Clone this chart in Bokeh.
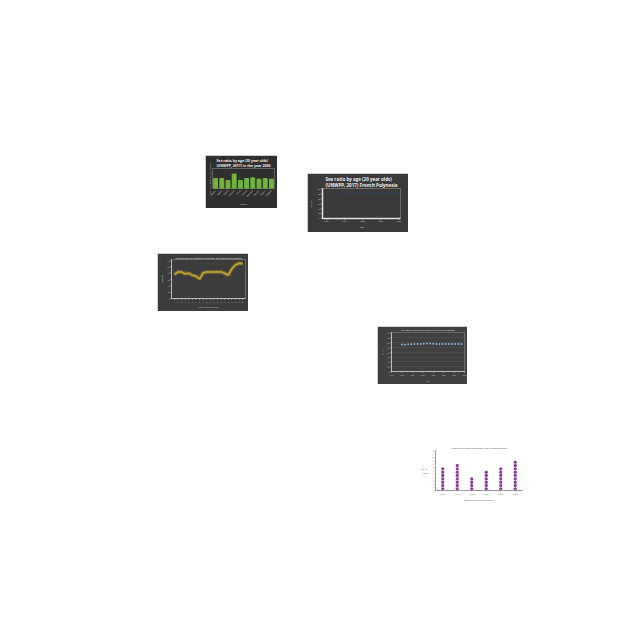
from bokeh.plotting import figure
from bokeh.layouts import row, column
from bokeh.models import Spacer, FixedTicker, ColumnDataSource
from bokeh.embed import file_html
from bokeh.resources import INLINE

# ---------------- data ----------------
# chart 1: bar chart (sex ratio by country)
bar_countries = ["Albania", "Algeria", "Angola", "Armenia", "Aruba", "Austria",
                 "Bahamas", "Bahrain", "Belarus", "Belgium"]
bar_values = [104.5, 104.5, 103.0, 108.0, 103.0, 104.5, 105.0, 104.0, 104.5, 104.0]

# chart 2: sex ratio French Polynesia (very faint line)
fp_years = [1970, 1980, 1990, 2000, 2010, 2020, 2030, 2040, 2050]
fp_values = [103, 104, 103, 104, 104, 103, 104, 104, 104]
fp_xticks = [1950, 1975, 2000, 2025, 2050]

# chart 3: yellow line chart
line_x = list(range(1, 21))
line_y = [75, 83, 83, 77, 79, 73, 70, 61, 80, 83, 83, 83, 83, 83, 79, 73, 93, 105, 110, 109]

# chart 4: scatter Palestine
pal_years = [1960, 1963, 1966, 1969, 1972, 1975, 1978, 1981, 1984, 1987,
             1990, 1993, 1996, 1999, 2002, 2005, 2008, 2011, 2014, 2017]
pal_values = [112, 111, 113, 113, 114, 114, 114, 115, 116, 116,
              115, 114, 114, 114, 114, 114, 114, 114, 114, 114]
pal_xticks = [1950, 1960, 1970, 1980, 1990, 2000, 2010, 2020]

# chart 5: dot plot
emp_ids = ["ID 5701", "ID 7770", "ID 4880", "ID 8098", "ID 5168", "ID 2091"]
emp_days = [7, 8, 4, 6, 7, 9]

FONT = "Open Sans"


def tight_axes(p, label_px, title_px):
    for ax in p.axis:
        ax.minor_tick_line_color = None
        ax.major_label_text_font = FONT
        ax.axis_label_text_font = FONT
        ax.axis_label_text_font_style = "normal"
        ax.major_label_text_font_size = label_px
        ax.axis_label_text_font_size = title_px
        ax.major_label_standoff = 1
        ax.axis_label_standoff = 1
        ax.major_tick_out = 1
        ax.major_tick_in = 0
    p.min_border_left = 1
    p.min_border_right = 3
    p.min_border_top = 1
    p.min_border_bottom = 1
    p.title.standoff = 1
    p.title.text_font = FONT
    p.title.align = "center"


def dark_style(p, bg, axis_col="#bbbbbb"):
    p.background_fill_color = bg
    p.border_fill_color = bg
    p.outline_line_color = None
    for ax in p.axis:
        ax.axis_line_color = axis_col
        ax.major_tick_line_color = axis_col
        ax.major_label_text_color = "#cccccc"
        ax.axis_label_text_color = "#cccccc"
    p.title.text_color = "#eeeeee"
    p.xgrid.grid_line_color = None
    p.ygrid.grid_line_color = None


# ---------------- chart 1 ----------------
p1 = figure(width=72, height=53, x_range=bar_countries, y_range=(96.6, 112.4),
            output_backend="svg", toolbar_location=None,
            title="Sex ratio by age (20 year olds)\n(UNWPP, 2017) in the year 2000")
p1.vbar(x=bar_countries, top=bar_values, width=0.62, color="#72b43a")
dark_style(p1, "#2f2f2f")
tight_axes(p1, "2px", "2px")
p1.title.text_font_size = "3.5px"
p1.title.text_font_style = "bold"
p1.min_border_top = 4
p1.xaxis.major_label_orientation = 0.8
p1.xaxis.axis_label = "Country"
p1.xaxis.axis_line_color = None
p1.xaxis.major_tick_line_color = None
p1.yaxis.axis_label = "Sex ratio (males per 100 females)"
p1.yaxis.ticker = FixedTicker(ticks=[])
p1.yaxis.axis_line_color = None
p1.yaxis.major_tick_line_color = None
p1.min_border_left = 4

# ---------------- chart 2 ----------------
p2 = figure(width=101, height=59, x_range=(1945, 2052), y_range=(0, 122),
            output_backend="svg", toolbar_location=None,
            title="Sex ratio by age (20 year olds)\n(UNWPP, 2017) French Polynesia")
p2.line(fp_years, fp_values, line_color="#34466e", line_width=1, line_alpha=0.7)
dark_style(p2, "#3a3a3a", axis_col="#dddddd")
tight_axes(p2, "2px", "2px")
p2.title.text_font_size = "4.5px"
p2.title.text_font_style = "bold"
p2.min_border_top = 2
p2.xaxis.ticker = FixedTicker(ticks=fp_xticks)
p2.yaxis.ticker = FixedTicker(ticks=list(range(0, 121, 20)))
p2.xaxis.axis_label = "Years"
p2.yaxis.axis_label = "Sex ratio"
p2.xaxis.axis_line_width = 1.5
p2.yaxis.axis_line_width = 1.5
p2.min_border_left = 5
p2.min_border_bottom = 2
p2.min_border_right = 8

# ---------------- chart 3 ----------------
p3 = figure(width=91, height=58, x_range=(0.2, 20.8), y_range=(0, 122),
            output_backend="svg", toolbar_location=None,
            title="Median age of females in different age groups of females")
p3.line(line_x, line_y, line_color="#8a7a2a", line_width=4, line_alpha=0.6)
p3.line(line_x, line_y, line_color="#c2a634", line_width=1.6)
dark_style(p3, "#3c3c3c")
tight_axes(p3, "1.5px", "1.5px")
p3.title.text_font_size = "2.5px"
p3.title.text_font_style = "normal"
p3.min_border_top = 3
p3.xaxis.ticker = FixedTicker(ticks=line_x)
p3.yaxis.ticker = FixedTicker(ticks=list(range(0, 121, 20)))
p3.xaxis.axis_label = "Sample countries and years"
p3.yaxis.axis_label = "Median age"
p3.min_border_left = 1
p3.min_border_bottom = 2

# ---------------- chart 4 ----------------
p4 = figure(width=90, height=58, x_range=(1950, 2020), y_range=(0, 162),
            output_backend="svg", toolbar_location=None,
            title="Sex ratio by age (20 year olds) (UNWPP, 2017) in Palestine")
p4.scatter(pal_years, pal_values, size=1.9, color="#8fb0d0", line_color=None)
dark_style(p4, "#404040")
tight_axes(p4, "1.6px", "1.6px")
p4.title.text_font_size = "2px"
p4.title.text_font_style = "normal"
p4.min_border_top = 5
p4.ygrid.grid_line_color = "#555555"
p4.ygrid.grid_line_width = 0.5
p4.xaxis.ticker = FixedTicker(ticks=pal_xticks)
p4.yaxis.ticker = FixedTicker(ticks=list(range(0, 161, 20)))
p4.xaxis.axis_label = "Year"
p4.yaxis.axis_label = "Sex ratio"
p4.min_border_left = 2
p4.min_border_bottom = 2

# ---------------- chart 5 ----------------
dot_x, dot_y = [], []
for cat, n in zip(emp_ids, emp_days):
    for k in range(n):
        dot_x.append(cat)
        dot_y.append(k + 0.5)
src5 = ColumnDataSource(dict(x=dot_x, y=dot_y))
p5 = figure(width=110, height=60, x_range=emp_ids, y_range=(0, 12),
            output_backend="svg", toolbar_location=None,
            title="Number of days staff labored aged 40 for 10 groups of fields")
p5.scatter("x", "y", source=src5, size=3.3, color="#8e3f9e", line_color=None)
p5.background_fill_color = "white"
p5.border_fill_color = "white"
p5.outline_line_color = None
p5.xgrid.grid_line_color = None
p5.ygrid.grid_line_color = None
tight_axes(p5, "1.6px", "2px")
p5.title.text_font_size = "2px"
p5.title.text_font_style = "normal"
p5.title.text_color = "#444444"
p5.yaxis.ticker = FixedTicker(ticks=list(range(0, 13)))
for ax in p5.axis:
    ax.axis_line_color = "#999999"
    ax.major_tick_line_color = "#999999"
    ax.major_label_text_color = "#555555"
    ax.axis_label_text_color = "#444444"
p5.xaxis.axis_label = "Employee Identification Number"
p5.yaxis.axis_label = "No. of\ndays"
p5.yaxis.axis_label_orientation = "horizontal"
p5.yaxis.axis_label_text_font_size = "2.4px"
p5.min_border_top = 1
p5.min_border_right = 5

# ---------------- layout ----------------
rowA = row(Spacer(width=205, height=77),
           column(p1, Spacer(width=72, height=24)),
           Spacer(width=30, height=77),
           column(Spacer(width=101, height=18), p2))
rowB = row(Spacer(width=157, height=58), p3)
rowC = row(Spacer(width=377, height=58), p4)
rowD = row(Spacer(width=417, height=60), p5)

layout = column(Spacer(width=640, height=155), rowA,
                Spacer(width=640, height=21), rowB,
                Spacer(width=640, height=15), rowC,
                Spacer(width=640, height=60), rowD)

open("out.html", "w").write(file_html(layout, INLINE))
